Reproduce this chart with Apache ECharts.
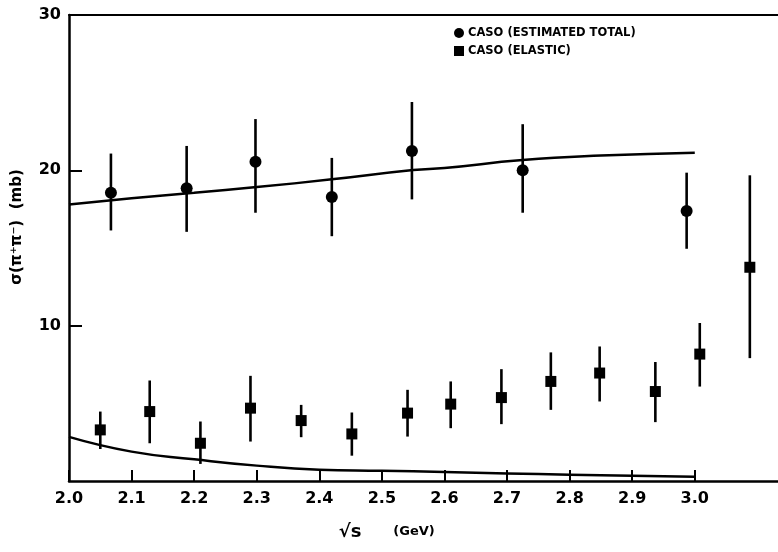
<!DOCTYPE html>
<html>
<head>
<meta charset="utf-8">
<script src="https://cdn.jsdelivr.net/npm/echarts@6/dist/echarts.min.js"></script>
<style>html,body{margin:0;padding:0;background:#fff}#c{width:778px;height:552px}</style>
</head>
<body>
<div id="c"></div>
<script>
// Estimated total cross section (circles)
var totalX    = [2.067, 2.188, 2.298, 2.420, 2.548, 2.725, 2.987];
var totalY    = [18.56, 18.84, 20.56, 18.28, 21.25, 20.00, 17.38];
var totalLow  = [16.13, 16.04, 17.27, 15.76, 18.13, 17.27, 14.95];
var totalHigh = [21.08, 21.57, 23.30, 20.80, 24.40, 22.97, 19.85];

// Elastic cross section (squares)
var elasX    = [2.050, 2.129, 2.210, 2.290, 2.371, 2.452, 2.541, 2.610, 2.691, 2.770, 2.848, 2.937, 3.008, 3.088];
var elasY    = [3.29, 4.47, 2.43, 4.69, 3.89, 3.03, 4.37, 4.95, 5.37, 6.41, 6.95, 5.76, 8.17, 13.76];
var elasLow  = [2.06, 2.43, 1.10, 2.54, 2.82, 1.63, 2.86, 3.40, 3.66, 4.58, 5.12, 3.79, 6.08, 7.91];
var elasHigh = [4.47, 6.47, 3.83, 6.77, 4.90, 4.41, 5.87, 6.41, 7.20, 8.28, 8.66, 7.66, 10.17, 19.68];

// Theory curves
var curveTotX = [2.0, 2.1, 2.2, 2.3, 2.42, 2.55, 2.6, 2.725, 2.85, 3.0];
var curveTotY = [17.8, 18.2, 18.55, 18.92, 19.42, 20.02, 20.15, 20.66, 20.95, 21.14];
var curveElX  = [2.0, 2.1, 2.2, 2.3, 2.4, 2.5, 2.6, 2.7, 2.8, 2.9, 3.0];
var curveElY  = [2.84, 1.89, 1.40, 0.99, 0.73, 0.66, 0.58, 0.49, 0.41, 0.34, 0.28];

// Axis tick labels
var xTicks = [2.0, 2.1, 2.2, 2.3, 2.4, 2.5, 2.6, 2.7, 2.8, 2.9, 3.0];
var yTicks = [10, 20, 30];

var FONT = 'DejaVu Sans';
function pairs(xs, ys) { return xs.map(function (x, i) { return [x, ys[i]]; }); }
function errData(xs, lo, hi) { return xs.map(function (x, i) { return [x, lo[i], hi[i]]; }); }
function errRender(params, api) {
  var p1 = api.coord([api.value(0), api.value(1)]);
  var p2 = api.coord([api.value(0), api.value(2)]);
  return { type: 'line', shape: { x1: p1[0], y1: p1[1], x2: p2[0], y2: p2[1] },
           style: { stroke: '#000', lineWidth: 2.6 } };
}

var chart = echarts.init(document.getElementById('c'));
chart.setOption({
  animation: false,
  backgroundColor: '#fff',
  grid: { left: 69, right: 0, top: 15, bottom: 71 },
  legend: {
    orient: 'vertical', left: 449, top: 22, itemGap: 6,
    itemWidth: 10, itemHeight: 10,
    data: [{ name: 'CASO (ESTIMATED TOTAL)', icon: 'circle' }, { name: 'CASO (ELASTIC)', icon: 'rect' }],
    itemStyle: { color: '#000', opacity: 1 },
    textStyle: { fontFamily: FONT, fontWeight: 'bold', fontSize: 11.5, color: '#000', padding: [0, 0, 0, -1] }
  },
  xAxis: [{
    type: 'value', min: 2.0, max: 3.133, interval: 0.1,
    axisLine: { show: true, lineStyle: { color: '#000', width: 2.5 } },
    axisTick: { show: true, inside: true, length: 11, customValues: xTicks, lineStyle: { color: '#000', width: 2 } },
    axisLabel: { customValues: xTicks, margin: 10, color: '#000', fontFamily: FONT, fontWeight: 'bold', fontSize: 16,
                 formatter: function (v) { return v.toFixed(1); } },
    splitLine: { show: false }
  }, {
    type: 'value', position: 'top', min: 2.0, max: 3.133,
    axisLine: { show: true, lineStyle: { color: '#000', width: 2 } },
    axisTick: { show: false }, axisLabel: { show: false }, splitLine: { show: false }
  }],
  yAxis: {
    type: 'value', min: 0, max: 30, interval: 10,
    axisLine: { show: true, lineStyle: { color: '#000', width: 2.5 } },
    axisTick: { show: true, inside: true, length: 13, customValues: yTicks, lineStyle: { color: '#000', width: 2 } },
    axisLabel: { customValues: yTicks, margin: 8, color: '#000', fontFamily: FONT, fontWeight: 'bold', fontSize: 16 },
    splitLine: { show: false }
  },
  graphic: [
    { type: 'text', x: 17, y: 227, rotation: Math.PI / 2,
      style: { text: 'σ(π⁺π⁻)  (mb)', fill: '#000', font: 'bold 15px "DejaVu Sans"', align: 'center', verticalAlign: 'middle' } },
    { type: 'text', x: 350, y: 532,
      style: { text: '√s', fill: '#000', font: 'bold 18px "DejaVu Sans"', align: 'center', verticalAlign: 'middle' } },
    { type: 'text', x: 414, y: 532,
      style: { text: '(GeV)', fill: '#000', font: 'bold 13px "DejaVu Sans"', align: 'center', verticalAlign: 'middle' } }
  ],
  series: [
    { type: 'line', name: 'theoryTotal', data: pairs(curveTotX, curveTotY), smooth: true, showSymbol: false,
      lineStyle: { color: '#000', width: 2.5 }, z: 2 },
    { type: 'line', name: 'theoryElastic', data: pairs(curveElX, curveElY), smooth: true, showSymbol: false,
      lineStyle: { color: '#000', width: 2.5 }, z: 2 },
    { type: 'custom', name: 'errTotal', data: errData(totalX, totalLow, totalHigh), renderItem: errRender, z: 3 },
    { type: 'custom', name: 'errElastic', data: errData(elasX, elasLow, elasHigh), renderItem: errRender, z: 3 },
    { type: 'scatter', name: 'CASO (ESTIMATED TOTAL)', data: pairs(totalX, totalY), symbol: 'circle', symbolSize: 12,
      itemStyle: { color: '#000', opacity: 1 }, z: 4 },
    { type: 'scatter', name: 'CASO (ELASTIC)', data: pairs(elasX, elasY), symbol: 'rect', symbolSize: 11,
      itemStyle: { color: '#000', opacity: 1 }, z: 4 }
  ]
});
</script>
</body>
</html>
